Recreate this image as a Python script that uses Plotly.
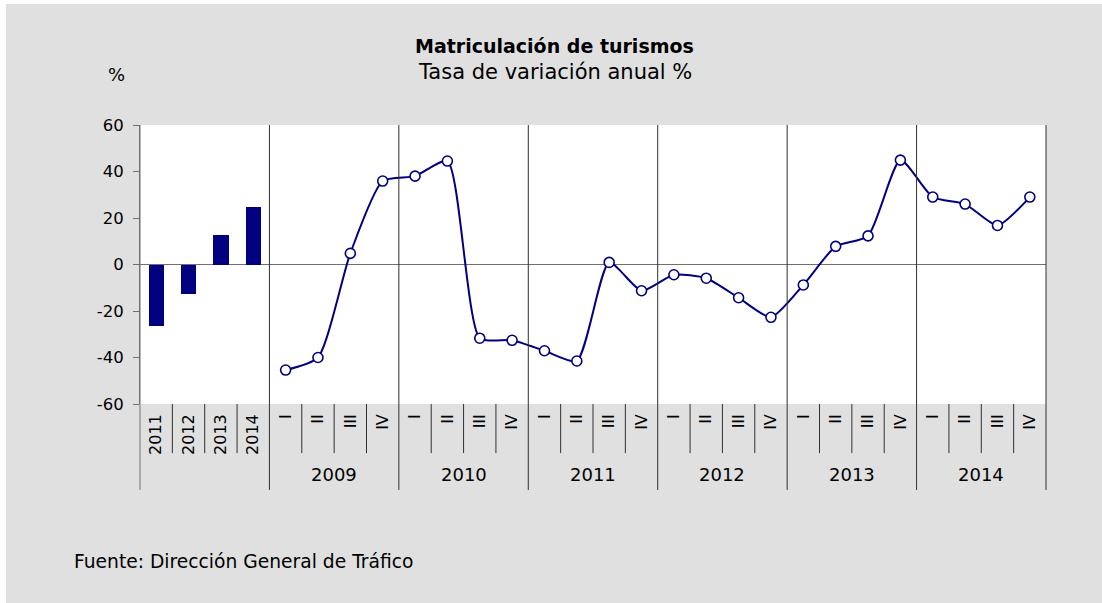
import plotly.graph_objects as go

# ---------------- data ----------------
annual_years = ["2011", "2012", "2013", "2014"]
annual_values = [-26.3, -12.6, 12.6, 24.6]

quarter_years = ["2009", "2010", "2011", "2012", "2013", "2014"]
quarter_names = ["I", "II", "III", "IV"]
quarter_values = [
    -45.4, -40.0, 4.8, 35.9,      # 2009
    38.0, 44.5, -31.7, -32.6,     # 2010
    -37.1, -41.5, 0.9, -11.3,     # 2011
    -4.4, -5.9, -14.3, -22.7,     # 2012
    -8.8, 7.8, 12.3, 44.9,        # 2013
    29.0, 26.0, 16.8, 29.0,       # 2014
]
y_ticks = [60, 40, 20, 0, -20, -40, -60]
y_tick_text = ["60", "40", "20", "0", "-20", "-40", "-60"]

title_text = "<b>Matriculación de turismos</b>"
subtitle_text = "Tasa de variación anual %"
unit_text = "%"
source_text = "Fuente: Dirección General de Tráfico"

# ---------------- derived positions ----------------
n_annual = len(annual_years)
n_cat = n_annual + len(quarter_years) * len(quarter_names)
cat_labels = annual_years + quarter_names * len(quarter_years)
cat_centers = [i + 0.5 for i in range(n_cat)]
bar_x = cat_centers[:n_annual]
line_x = cat_centers[n_annual:]

NAVY = "#000080"
BG = "#e0e0e0"
LINE = "#303030"
AXIS = "#707070"
FONT = "DejaVu Sans"

fig = go.Figure()
fig.add_trace(go.Bar(
    x=bar_x, y=annual_values, width=0.47,
    marker=dict(color=NAVY, line=dict(width=0)),
    showlegend=False, hoverinfo="skip",
))
fig.add_trace(go.Scatter(
    x=line_x, y=quarter_values, mode="lines+markers",
    line=dict(color=NAVY, width=2, shape="spline", smoothing=0.6),
    marker=dict(size=10, color="white", line=dict(color=NAVY, width=1.6)),
    showlegend=False, hoverinfo="skip",
))

def px(i):
    return i / n_cat

y_bottom_group = -0.308
y_bottom_cat = -0.176

shapes = []
group_edges = [0, n_annual] + [n_annual + 4 * (k + 1) for k in range(len(quarter_years))]
for e in group_edges:
    shapes.append(dict(type="line", xref="paper", yref="paper",
                       x0=px(e), x1=px(e), y0=y_bottom_group, y1=1,
                       line=dict(color=AXIS if e == 0 else LINE, width=1),
                       layer="above"))
for i in range(1, n_cat):
    if i in group_edges:
        continue
    shapes.append(dict(type="line", xref="paper", yref="paper",
                       x0=px(i), x1=px(i), y0=y_bottom_cat, y1=0,
                       line=dict(color=LINE, width=1), layer="above"))
shapes.append(dict(type="rect", xref="paper", yref="paper",
                   x0=-0.3, x1=1.2, y0=1.4337, y1=1.6,
                   fillcolor="white", line=dict(width=0), layer="above"))
shapes.append(dict(type="rect", xref="paper", yref="paper",
                   x0=-0.3, x1=-0.1479, y0=-1, y1=1.6,
                   fillcolor="white", line=dict(width=0), layer="above"))

annotations = [
    dict(text=title_text, xref="paper", yref="paper", x=0.458, y=1.283,
         xanchor="center", yanchor="middle", showarrow=False,
         font=dict(family=FONT, size=19, color="black")),
    dict(text=subtitle_text, xref="paper", yref="paper", x=0.458, y=1.190,
         xanchor="center", yanchor="middle", showarrow=False,
         font=dict(family=FONT, size=21, color="black")),
    dict(text=unit_text, xref="paper", yref="paper", x=-0.0254, y=1.180,
         xanchor="center", yanchor="middle", showarrow=False,
         font=dict(family=FONT, size=18, color="black")),
    dict(text=source_text, xref="paper", yref="paper", x=-0.0751, y=-0.566,
         xanchor="left", yanchor="middle", showarrow=False,
         font=dict(family=FONT, size=18.7, color="black")),
]
for k, yr in enumerate(quarter_years):
    cx = n_annual + 4 * k + 2
    annotations.append(dict(text=yr, xref="paper", yref="paper", x=px(cx), y=-0.251,
                            xanchor="center", yanchor="middle", showarrow=False,
                            font=dict(family=FONT, size=18, color="black")))

fig.update_layout(
    width=1102, height=603,
    margin=dict(l=140, r=56, t=125, b=199, pad=0),
    paper_bgcolor=BG, plot_bgcolor="white",
    font=dict(family=FONT, color="black"),
    shapes=shapes, annotations=annotations,
    bargap=0,
    xaxis=dict(range=[0, n_cat], tickmode="array", tickvals=cat_centers,
               ticktext=cat_labels, tickangle=-90, ticks="", showline=False,
               showgrid=False, zeroline=False, tickfont=dict(size=16, family=FONT),
               ticklabelstandoff=6, fixedrange=True),
    yaxis=dict(range=[-60, 60], tickmode="array", tickvals=y_ticks,
               ticktext=y_tick_text,
               ticks="outside", ticklen=6, tickcolor=AXIS, showline=True,
               linecolor=AXIS, linewidth=1, showgrid=False,
               zeroline=True, zerolinecolor=AXIS, zerolinewidth=1,
               tickfont=dict(size=16.5, family=FONT), ticklabelstandoff=6,
               fixedrange=True),
)

fig.write_html("out.html", config={"displayModeBar": False},
               post_script="document.body.style.margin='0';")
